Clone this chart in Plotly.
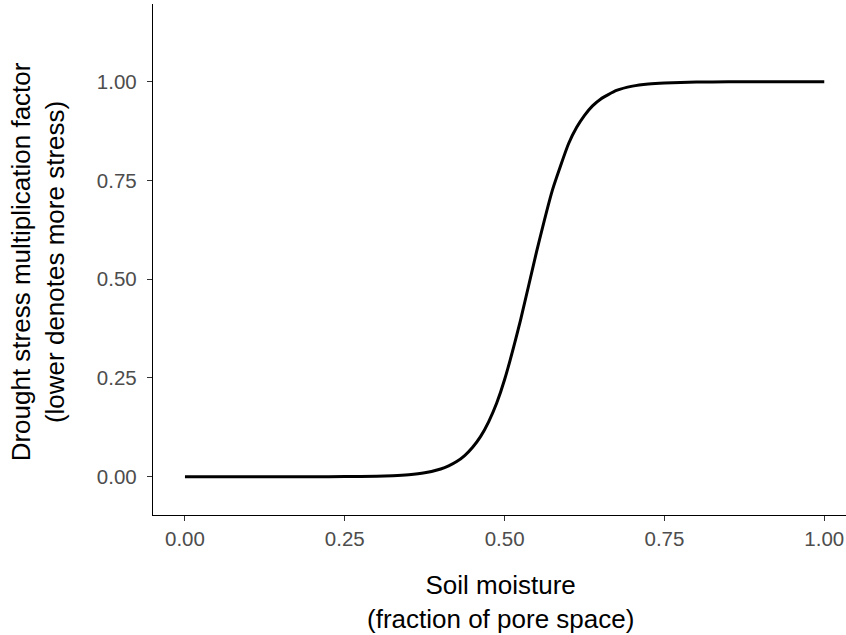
import plotly.graph_objects as go

# Soil moisture (fraction of pore space) and drought stress multiplier
soil_moisture = [0.0, 0.05, 0.1, 0.15, 0.2, 0.25, 0.3, 0.325, 0.35, 0.375, 0.4, 0.4125, 0.425,
                 0.4375, 0.45, 0.4625, 0.475, 0.4875, 0.5, 0.525, 0.55, 0.575, 0.6, 0.6125,
                 0.625, 0.6375, 0.65, 0.675, 0.7, 0.725, 0.75, 0.8, 0.85, 0.9, 0.95, 1.0]
stress_factor = [0.0, 0.0, 0.0, 0.0, 0.0001, 0.0003, 0.0012, 0.0024, 0.0049, 0.0098, 0.0195,
                 0.0275, 0.0384, 0.0536, 0.0745, 0.102, 0.139, 0.186, 0.246, 0.397, 0.570,
                 0.727, 0.843, 0.884, 0.915, 0.939, 0.956, 0.978, 0.989, 0.9945, 0.9972,
                 0.9993, 0.9998, 1.0, 1.0, 1.0]

x_ticks = [0.0, 0.25, 0.5, 0.75, 1.0]
x_tick_labels = ["0.00", "0.25", "0.50", "0.75", "1.00"]
y_ticks = [0.0, 0.25, 0.5, 0.75, 1.0]
y_tick_labels = ["0.00", "0.25", "0.50", "0.75", "1.00"]

x_title = "Soil moisture<br>(fraction of pore space)"
y_title = "Drought stress multiplication factor<br>(lower denotes more stress)"

FONT = "Liberation Sans, Arial, sans-serif"

fig = go.Figure()
fig.add_trace(go.Scatter(
    x=soil_moisture, y=stress_factor, mode="lines",
    line=dict(color="black", width=3, shape="spline", smoothing=0.5),
    showlegend=False, hoverinfo="skip",
))

axis_common = dict(
    showgrid=False, zeroline=False, showline=True, linecolor="black", linewidth=1.3,
    ticks="outside", ticklen=5, tickwidth=1.1, tickcolor="#333333",
    tickfont=dict(family=FONT, size=20.5, color="#4D4D4D"),
)

title_font = dict(family=FONT, size=26, color="black")
annotations = [
    dict(text=x_title, xref="paper", yref="paper", x=0.502, y=-0.170,
         xanchor="center", yanchor="middle", showarrow=False, font=title_font),
    dict(text=y_title, xref="paper", yref="paper", x=-0.1655, y=0.495,
         xanchor="center", yanchor="middle", textangle=-90, showarrow=False, font=title_font),
]

fig.update_layout(
    width=846, height=635,
    margin=dict(l=153, r=0, t=4, b=120),
    paper_bgcolor="white", plot_bgcolor="white",
    font=dict(family=FONT),
    xaxis=dict(range=[-0.05, 1.034], tickvals=x_ticks, ticktext=x_tick_labels,
               ticklabelstandoff=0, **axis_common),
    yaxis=dict(range=[-0.097, 1.197], tickvals=y_ticks, ticktext=y_tick_labels,
               ticklabelstandoff=6, **axis_common),
    annotations=annotations,
)

fig.write_html("out.html")
